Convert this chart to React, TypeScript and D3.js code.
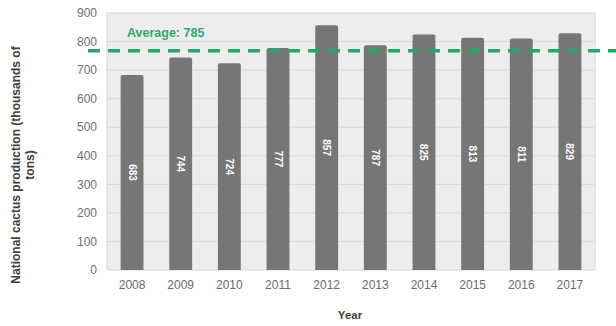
import React from "react";
import * as d3 from "d3";

const years = ["2008", "2009", "2010", "2011", "2012", "2013", "2014", "2015", "2016", "2017"];
const production = [683, 744, 724, 777, 857, 787, 825, 813, 811, 829];
const average = 785;
const yTicks = [0, 100, 200, 300, 400, 500, 600, 700, 800, 900];

const W = 616, H = 326;
const plot = { left: 107, right: 595, top: 13, bottom: 270 };

export default function App() {
  const x = d3.scaleBand<string>().domain(years).range([plot.left, plot.right]).paddingInner(0.53).paddingOuter(0.28);
  const y = d3.scaleLinear().domain([0, 900]).range([plot.bottom, plot.top]);
  const font = "'Liberation Sans', Arial, sans-serif";
  const avgY = y(average) + 5;
  return (
    <svg width={W} height={H} style={{ position: "absolute", left: 0, top: 0, background: "#fff" }} fontFamily={font}>
      <rect x={plot.left} y={plot.top} width={plot.right - plot.left} height={plot.bottom - plot.top} fill="#ededed" stroke="#d6d6d6" strokeWidth={1} />
      {yTicks.map((t) => (
        <g key={t}>
          {t > 0 && t < 900 && <line x1={plot.left} x2={plot.right} y1={y(t)} y2={y(t)} stroke="#d9d9d9" strokeWidth={1} />}
          <text x={97} y={y(t)} dy="0.35em" textAnchor="end" fontSize={12} fill="#707070">{t}</text>
        </g>
      ))}
      {years.map((yr, i) => {
        const bx = x(yr)!;
        const bw = x.bandwidth();
        const top = y(production[i]);
        const mid = (top + plot.bottom) / 2;
        const cx = bx + bw / 2;
        return (
          <g key={yr}>
            <path d={`M${bx},${plot.bottom}V${top + 2}Q${bx},${top} ${bx + 2},${top}H${bx + bw - 2}Q${bx + bw},${top} ${bx + bw},${top + 2}V${plot.bottom}Z`} fill="#767676" />
            <text x={cx} y={mid} transform={`rotate(90 ${cx} ${mid})`} textAnchor="middle" dy="0.35em" fontSize={10} fontWeight="bold" fill="#ffffff">{production[i]}</text>
            <text x={cx} y={285} textAnchor="middle" dy="0.35em" fontSize={12} fill="#6b6b6b">{yr}</text>
          </g>
        );
      })}
      <line x1={88} x2={W} y1={avgY} y2={avgY} stroke="#2aa564" strokeWidth={3.5} strokeDasharray="12 8" />
      <text x={127} y={33} dy="0.35em" fontSize={12.5} fontWeight="bold" fill="#2fa868">Average: 785</text>
      <text x={350} y={315} textAnchor="middle" dy="0.35em" fontSize={11.5} fontWeight="bold" fill="#404040">Year</text>
      <g transform="translate(16,165) rotate(-90)">
        <text x={0} y={0} textAnchor="middle" dy="0.35em" fontSize={12} fontWeight="bold" fill="#404040">National cactus production (thousands of</text>
        <text x={0} y={14} textAnchor="middle" dy="0.35em" fontSize={12} fontWeight="bold" fill="#404040">tons)</text>
      </g>
    </svg>
  );
}
